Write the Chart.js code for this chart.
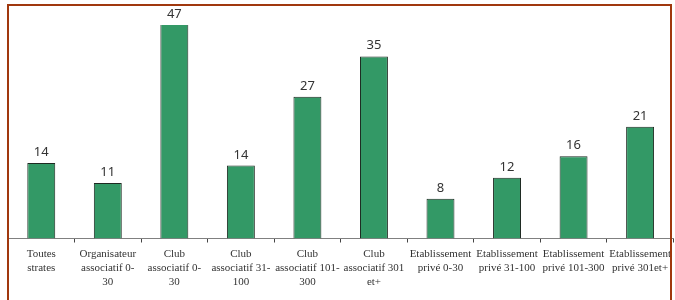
<!DOCTYPE html>
<html>
<head>
<meta charset="utf-8">
<script src="https://cdn.jsdelivr.net/npm/chart.js@4/dist/chart.umd.min.js"></script>
<style>
  html, body { margin: 0; padding: 0; background: #fff; overflow: hidden; }
  #wrap { position: relative; width: 675px; height: 300px; }
</style>
</head>
<body>
<div id="wrap"><canvas id="chart" width="675" height="300"></canvas></div>
<script>
// === Data ===
const categories = [
  ['Toutes', 'strates'],
  ['Organisateur', 'associatif 0-', '30'],
  ['Club', 'associatif 0-', '30'],
  ['Club', 'associatif 31-', '100'],
  ['Club', 'associatif 101-', '300'],
  ['Club', 'associatif 301', 'et+'],
  ['Etablissement', 'privé 0-30'],
  ['Etablissement', 'privé 31-100'],
  ['Etablissement', 'privé 101-300'],
  ['Etablissement', 'privé 301et+']
];
const values = [14.4, 10.6, 47, 13.9, 27.0, 34.7, 7.6, 11.6, 15.7, 21.3];
const yMax = 40.7; // top of the visible scale (the 47 bar is cut off)

// === Value labels above bars ===
const barLabels = {
  id: 'barLabels',
  afterDatasetsDraw(chart) {
    const { ctx, chartArea } = chart;
    const meta = chart.getDatasetMeta(0);
    ctx.save();
    ctx.font = '13px "Noto Sans"';
    ctx.fillStyle = '#333';
    ctx.textAlign = 'center';
    ctx.textBaseline = 'alphabetic';
    meta.data.forEach((bar, i) => {
      const top = Math.max(bar.y, chartArea.top);
      ctx.fillText(Math.round(values[i]), bar.x, top - 7);
    });
    ctx.restore();
  }
};

// === Brown frame ===
const frame = {
  id: 'frame',
  afterDraw(chart) {
    const { ctx } = chart;
    ctx.save();
    ctx.strokeStyle = '#a0380e';
    ctx.lineWidth = 2;
    ctx.strokeRect(8, 5, 663, 320);
    ctx.restore();
  }
};

new Chart(document.getElementById('chart'), {
  type: 'bar',
  data: {
    labels: categories,
    datasets: [{
      data: values,
      backgroundColor: '#339966',
      borderColor: '#1e2a22',
      borderWidth: 1,
      borderSkipped: 'bottom',
      barPercentage: 0.42,
      categoryPercentage: 1
    }]
  },
  options: {
    responsive: false,
    animation: false,
    layout: { padding: { top: 25, left: 8, right: 1, bottom: 0 } },
    plugins: { legend: { display: false }, tooltip: { enabled: false } },
    scales: {
      x: {
        grid: {
          offset: true,
          drawOnChartArea: false,
          drawTicks: true,
          tickLength: 4,
          color: '#444'
        },
        border: { display: true, color: '#808080', width: 1 },
        ticks: {
          color: '#333',
          font: { family: '"Liberation Serif"', size: 11, lineHeight: 1.3 },
          padding: 4,
          maxRotation: 0,
          autoSkip: false
        },
        afterFit(scale) { scale.height = 61.5; }
      },
      y: {
        display: false,
        min: 0,
        max: yMax
      }
    }
  },
  plugins: [barLabels, frame]
});
</script>
</body>
</html>
